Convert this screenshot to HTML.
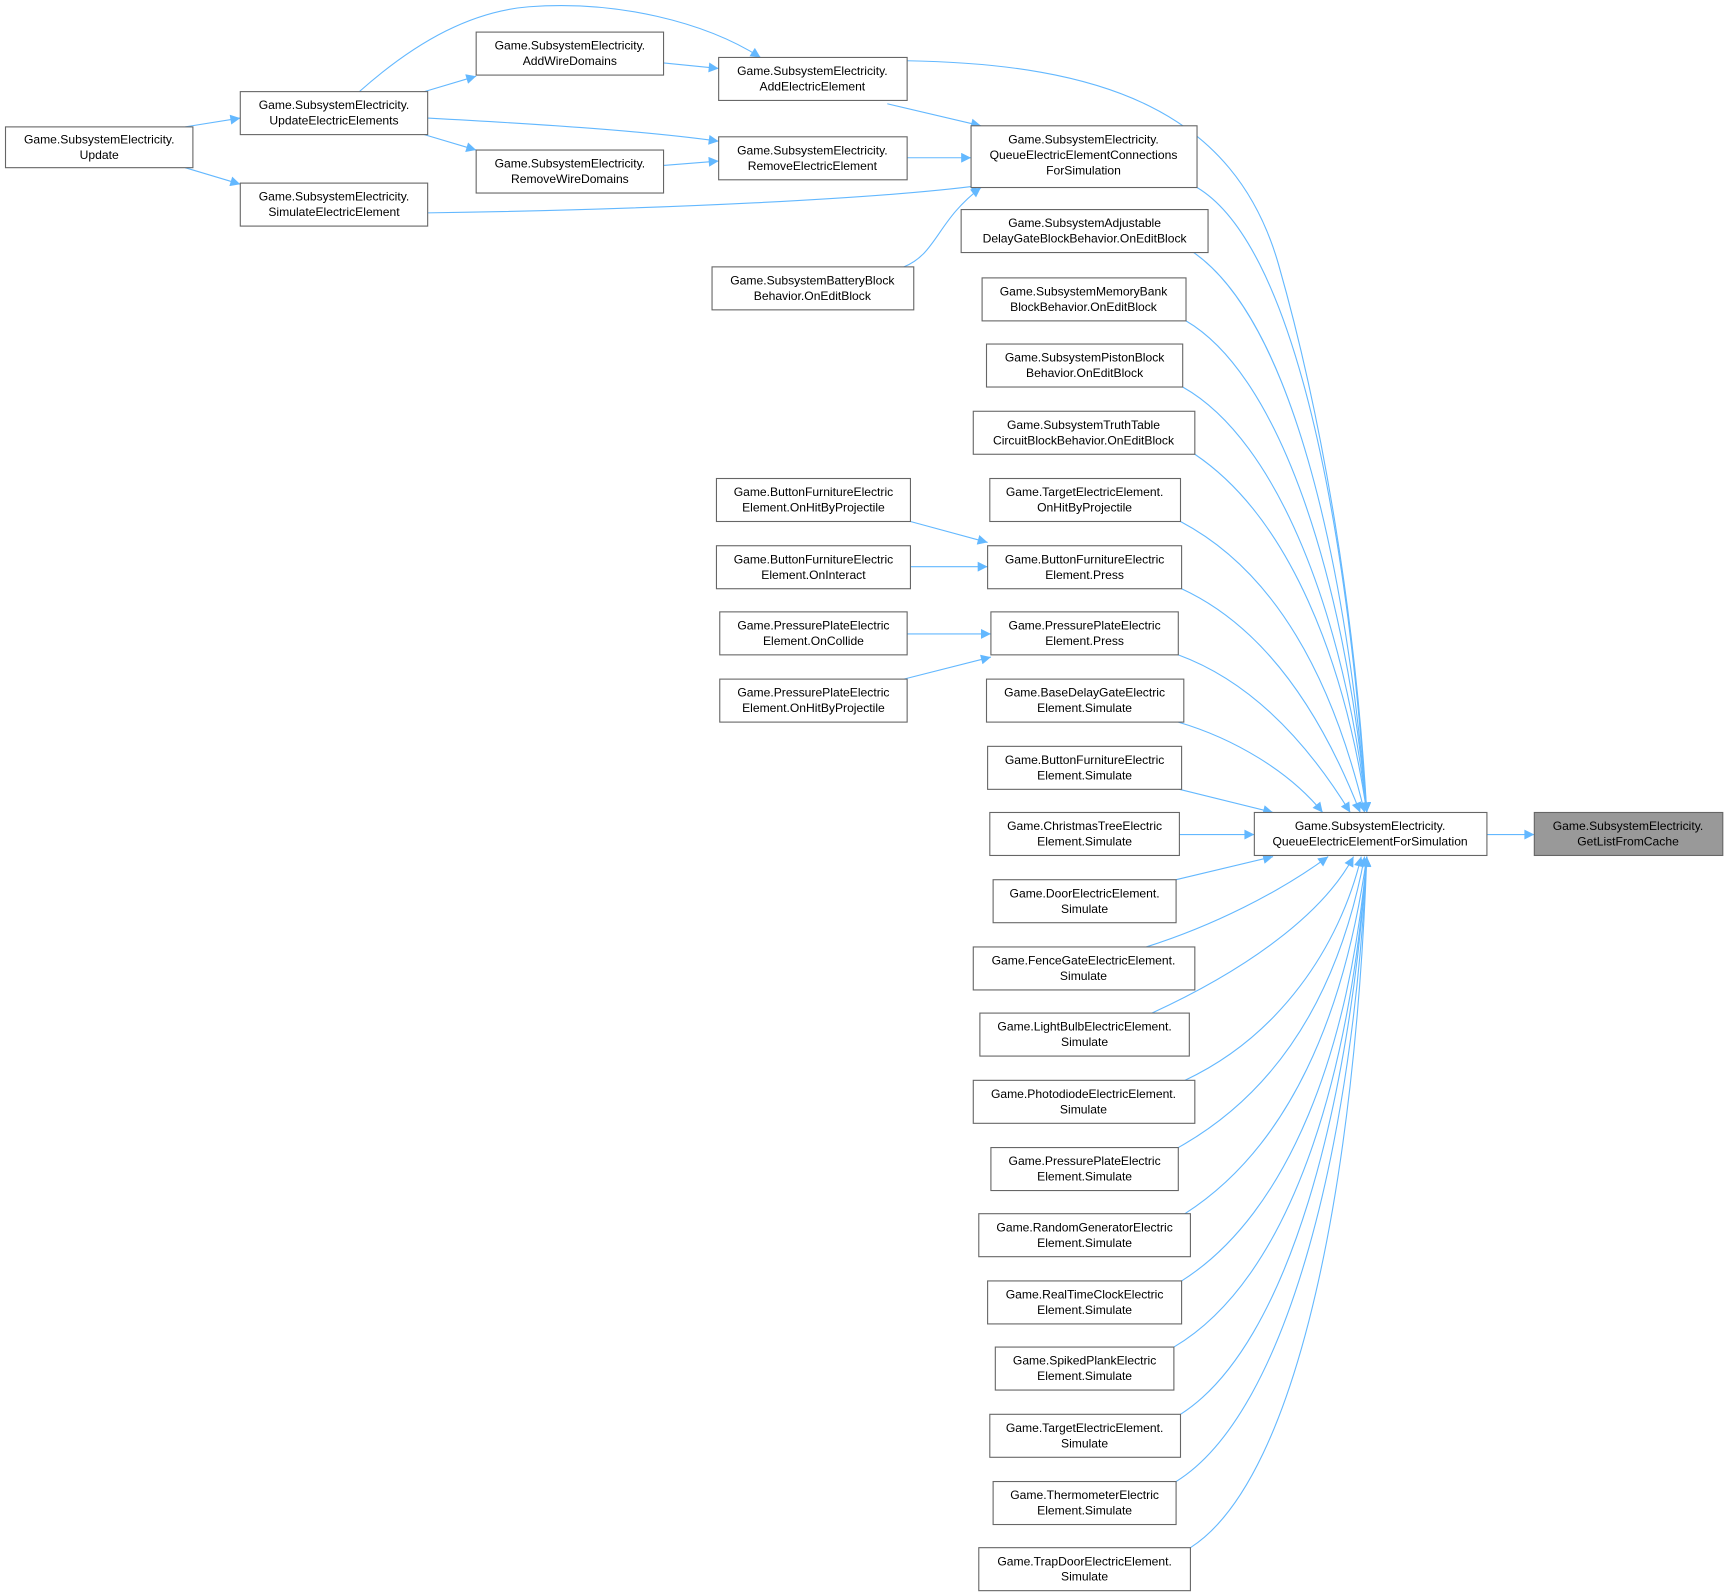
<!DOCTYPE html>
<html><head><meta charset="utf-8"><style>
html,body{margin:0;padding:0;background:#fff;}
svg{display:block;}
text{font-family:"Liberation Sans",Arial,sans-serif;font-size:11px;fill:#000;text-anchor:middle;}
.n{fill:#fff;stroke:#666;stroke-width:1;}
.e{fill:none;stroke:#63b8ff;stroke-width:1;}
</style></head><body>
<svg width="1725" height="1593" viewBox="0 0 1565 1445" xmlns="http://www.w3.org/2000/svg">
<defs><marker id="a" viewBox="0 0 10 10" refX="10" refY="5" markerWidth="11" markerHeight="9" markerUnits="userSpaceOnUse" orient="auto"><path d="M0,0 L10,5 L0,10 z" fill="#63b8ff"/></marker></defs>
<g class="e" marker-end="url(#a)">
<path d="M1349,757 L1392,757"/>
<path d="M168,115 L218,107"/>
<path d="M168,152 L218,167"/>
<path d="M385,83 L432,69"/>
<path d="M385,122 L432,136"/>
<path d="M326,83 C380,35 430,10 480,6 C560,0 640,20 690,52"/>
<path d="M388,107 C480,112 580,118 652,128"/>
<path d="M602,57 L652,62"/>
<path d="M602,150 L652,146"/>
<path d="M805,94 L890,114"/>
<path d="M823,143 L881,143"/>
<path d="M388,193 C600,190 800,180 890,168"/>
<path d="M820,242 C850,230 850,200 890,170"/>
<path d="M826,473 L896,492"/>
<path d="M826,514 L896,514"/>
<path d="M823,575 L899,575"/>
<path d="M820,616 L899,596"/>
<path d="M823,55 C1000,58 1120,100 1160,240 C1200,380 1230,560 1240,737"/>
<path d="M1086,170 C1170,220 1220,450 1240,737"/>
<path d="M1083,229 C1170,290 1220,500 1240,737"/>
<path d="M1076,291 C1160,340 1220,520 1240,737"/>
<path d="M1073,351 C1160,400 1220,560 1240,737"/>
<path d="M1084,412 C1170,470 1220,600 1240,737"/>
<path d="M1071,473 C1160,520 1210,620 1238,737"/>
<path d="M1072,534 C1150,570 1200,650 1234,737"/>
<path d="M1069,594 C1140,620 1190,680 1225,737"/>
<path d="M1069,655 C1120,670 1170,700 1200,737"/>
<path d="M1070,716 L1155,737"/>
<path d="M1070,757 L1138,757"/>
<path d="M1067,798 L1155,777"/>
<path d="M1040,859 C1100,840 1160,810 1205,777"/>
<path d="M1045,919 C1130,880 1200,830 1228,777"/>
<path d="M1075,980 C1160,940 1215,860 1235,777"/>
<path d="M1069,1041 C1160,990 1215,900 1238,777"/>
<path d="M1075,1101 C1170,1040 1220,920 1240,777"/>
<path d="M1072,1162 C1170,1100 1225,950 1240,777"/>
<path d="M1065,1222 C1170,1160 1225,980 1240,777"/>
<path d="M1071,1283 C1170,1220 1225,1000 1240,777"/>
<path d="M1067,1344 C1170,1280 1228,1030 1240,777"/>
<path d="M1080,1404 C1180,1340 1230,1060 1240,777"/>
</g>
<rect class="n" x="1392" y="737" width="171" height="39" style="fill:#999"/>
<text x="1477" y="753">Game.SubsystemElectricity.</text><text x="1477" y="767">GetListFromCache</text>
<rect class="n" x="1138" y="737" width="211" height="39"/>
<text x="1243" y="753">Game.SubsystemElectricity.</text><text x="1243" y="767">QueueElectricElementForSimulation</text>
<rect class="n" x="5" y="115" width="170" height="37"/>
<text x="90" y="130">Game.SubsystemElectricity.</text><text x="90" y="144">Update</text>
<rect class="n" x="218" y="83" width="170" height="39"/>
<text x="303" y="99">Game.SubsystemElectricity.</text><text x="303" y="113">UpdateElectricElements</text>
<rect class="n" x="218" y="166" width="170" height="39"/>
<text x="303" y="182">Game.SubsystemElectricity.</text><text x="303" y="196">SimulateElectricElement</text>
<rect class="n" x="432" y="29" width="170" height="39"/>
<text x="517" y="45">Game.SubsystemElectricity.</text><text x="517" y="59">AddWireDomains</text>
<rect class="n" x="432" y="136" width="170" height="39"/>
<text x="517" y="152">Game.SubsystemElectricity.</text><text x="517" y="166">RemoveWireDomains</text>
<rect class="n" x="652" y="52" width="171" height="39"/>
<text x="737" y="68">Game.SubsystemElectricity.</text><text x="737" y="82">AddElectricElement</text>
<rect class="n" x="652" y="124" width="171" height="39"/>
<text x="737" y="140">Game.SubsystemElectricity.</text><text x="737" y="154">RemoveElectricElement</text>
<rect class="n" x="881" y="114" width="205" height="56"/>
<text x="983" y="130">Game.SubsystemElectricity.</text><text x="983" y="144">QueueElectricElementConnections</text><text x="983" y="158">ForSimulation</text>
<rect class="n" x="646" y="242" width="183" height="39"/>
<text x="737" y="258">Game.SubsystemBatteryBlock</text><text x="737" y="272">Behavior.OnEditBlock</text>
<rect class="n" x="872" y="190" width="224" height="39"/>
<text x="984" y="206">Game.SubsystemAdjustable</text><text x="984" y="220">DelayGateBlockBehavior.OnEditBlock</text>
<rect class="n" x="891" y="252" width="185" height="39"/>
<text x="983" y="268">Game.SubsystemMemoryBank</text><text x="983" y="282">BlockBehavior.OnEditBlock</text>
<rect class="n" x="895" y="312" width="178" height="39"/>
<text x="984" y="328">Game.SubsystemPistonBlock</text><text x="984" y="342">Behavior.OnEditBlock</text>
<rect class="n" x="883" y="373" width="201" height="39"/>
<text x="983" y="389">Game.SubsystemTruthTable</text><text x="983" y="403">CircuitBlockBehavior.OnEditBlock</text>
<rect class="n" x="898" y="434" width="173" height="39"/>
<text x="984" y="450">Game.TargetElectricElement.</text><text x="984" y="464">OnHitByProjectile</text>
<rect class="n" x="896" y="495" width="176" height="39"/>
<text x="984" y="511">Game.ButtonFurnitureElectric</text><text x="984" y="525">Element.Press</text>
<rect class="n" x="899" y="555" width="170" height="39"/>
<text x="984" y="571">Game.PressurePlateElectric</text><text x="984" y="585">Element.Press</text>
<rect class="n" x="895" y="616" width="179" height="39"/>
<text x="984" y="632">Game.BaseDelayGateElectric</text><text x="984" y="646">Element.Simulate</text>
<rect class="n" x="896" y="677" width="176" height="39"/>
<text x="984" y="693">Game.ButtonFurnitureElectric</text><text x="984" y="707">Element.Simulate</text>
<rect class="n" x="898" y="737" width="172" height="39"/>
<text x="984" y="753">Game.ChristmasTreeElectric</text><text x="984" y="767">Element.Simulate</text>
<rect class="n" x="901" y="798" width="166" height="39"/>
<text x="984" y="814">Game.DoorElectricElement.</text><text x="984" y="828">Simulate</text>
<rect class="n" x="883" y="859" width="201" height="39"/>
<text x="983" y="875">Game.FenceGateElectricElement.</text><text x="983" y="889">Simulate</text>
<rect class="n" x="889" y="919" width="190" height="39"/>
<text x="984" y="935">Game.LightBulbElectricElement.</text><text x="984" y="949">Simulate</text>
<rect class="n" x="883" y="980" width="201" height="39"/>
<text x="983" y="996">Game.PhotodiodeElectricElement.</text><text x="983" y="1010">Simulate</text>
<rect class="n" x="899" y="1041" width="170" height="39"/>
<text x="984" y="1057">Game.PressurePlateElectric</text><text x="984" y="1071">Element.Simulate</text>
<rect class="n" x="888" y="1101" width="192" height="39"/>
<text x="984" y="1117">Game.RandomGeneratorElectric</text><text x="984" y="1131">Element.Simulate</text>
<rect class="n" x="896" y="1162" width="176" height="39"/>
<text x="984" y="1178">Game.RealTimeClockElectric</text><text x="984" y="1192">Element.Simulate</text>
<rect class="n" x="903" y="1222" width="162" height="39"/>
<text x="984" y="1238">Game.SpikedPlankElectric</text><text x="984" y="1252">Element.Simulate</text>
<rect class="n" x="898" y="1283" width="173" height="39"/>
<text x="984" y="1299">Game.TargetElectricElement.</text><text x="984" y="1313">Simulate</text>
<rect class="n" x="901" y="1344" width="166" height="39"/>
<text x="984" y="1360">Game.ThermometerElectric</text><text x="984" y="1374">Element.Simulate</text>
<rect class="n" x="888" y="1404" width="192" height="39"/>
<text x="984" y="1420">Game.TrapDoorElectricElement.</text><text x="984" y="1434">Simulate</text>
<rect class="n" x="650" y="434" width="176" height="39"/>
<text x="738" y="450">Game.ButtonFurnitureElectric</text><text x="738" y="464">Element.OnHitByProjectile</text>
<rect class="n" x="650" y="495" width="176" height="39"/>
<text x="738" y="511">Game.ButtonFurnitureElectric</text><text x="738" y="525">Element.OnInteract</text>
<rect class="n" x="653" y="555" width="170" height="39"/>
<text x="738" y="571">Game.PressurePlateElectric</text><text x="738" y="585">Element.OnCollide</text>
<rect class="n" x="653" y="616" width="170" height="39"/>
<text x="738" y="632">Game.PressurePlateElectric</text><text x="738" y="646">Element.OnHitByProjectile</text>
</svg>
</body></html>
